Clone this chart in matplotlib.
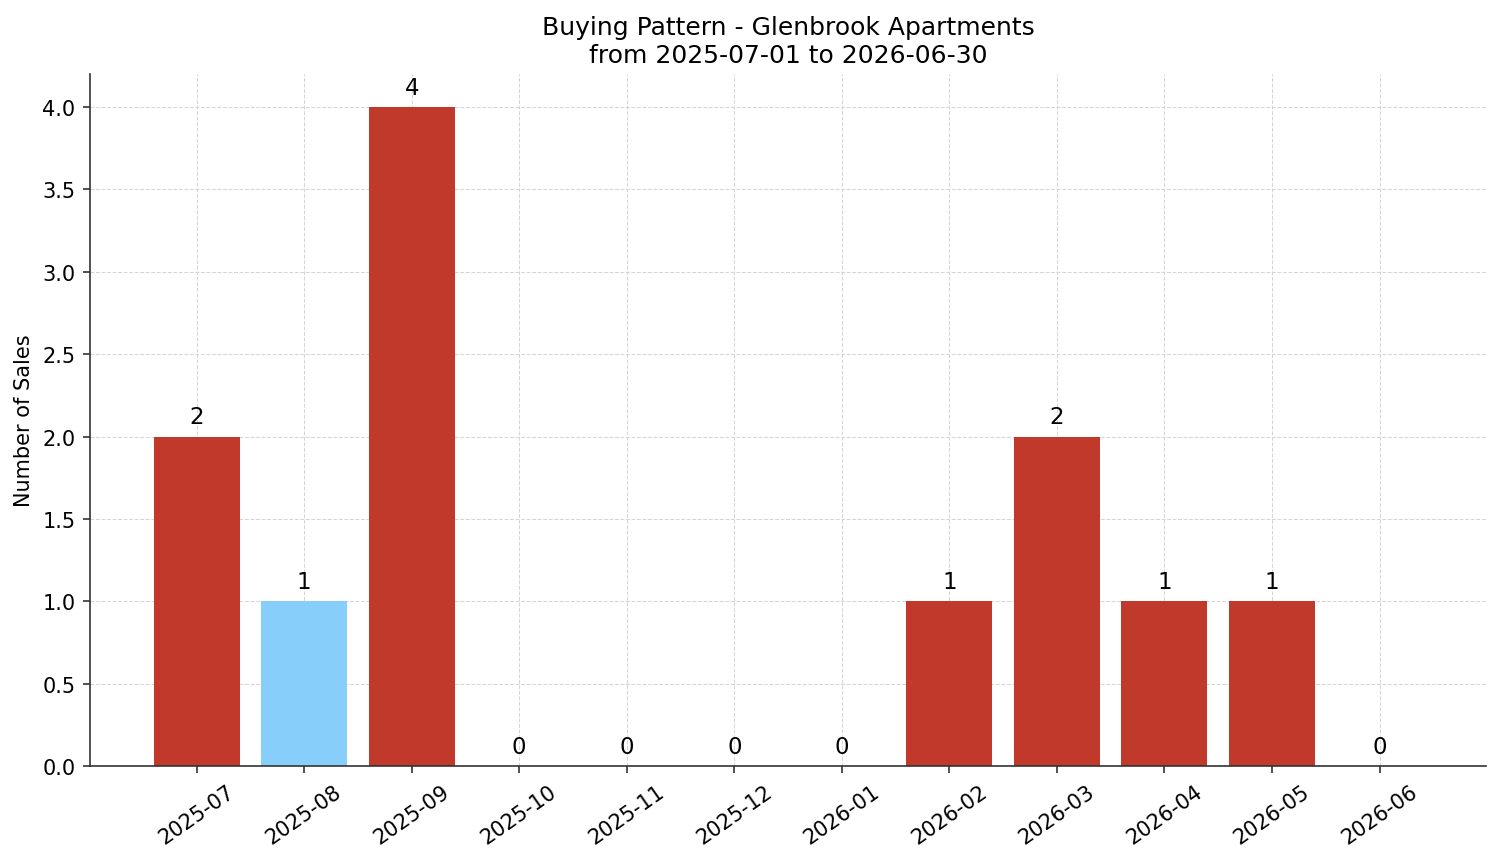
import matplotlib.pyplot as plt

months = ["2025-07", "2025-08", "2025-09", "2025-10", "2025-11", "2025-12",
          "2026-01", "2026-02", "2026-03", "2026-04", "2026-05", "2026-06"]
sales = [2, 1, 4, 0, 0, 0, 0, 1, 2, 1, 1, 0]
highlight = "2025-08"

colors = ["#87cefa" if m == highlight else "#c0392b" for m in months]

fig, ax = plt.subplots(figsize=(10.007, 5.753), dpi=150)
x = list(range(len(months)))
bars = ax.bar(x, sales, color=colors, width=0.8, zorder=2)

for b, v in zip(bars, sales):
    ax.text(b.get_x() + b.get_width() / 2, v + 0.05, str(v),
            ha="center", va="bottom", fontsize=11)

ax.set_xticks(x)
ax.set_xticklabels(months, rotation=35, ha="center", fontsize=10)
ax.tick_params(axis="y", labelsize=10)
ax.tick_params(color="#333333", labelcolor="black")
ax.set_ylabel("Number of Sales", fontsize=10)
ax.set_title("Buying Pattern - Glenbrook Apartments\nfrom 2025-07-01 to 2026-06-30",
             fontsize=12)
ax.grid(True, linestyle="--", linewidth=0.5, color="#d5d5d5", zorder=0)
ax.set_axisbelow(True)
ax.spines["top"].set_visible(False)
ax.spines["right"].set_visible(False)
ax.spines["left"].set_color("#333333")
ax.spines["bottom"].set_color("#333333")

fig.subplots_adjust(left=0.06, right=0.99, top=0.913, bottom=0.111)
fig.savefig("out.png", dpi=150)
